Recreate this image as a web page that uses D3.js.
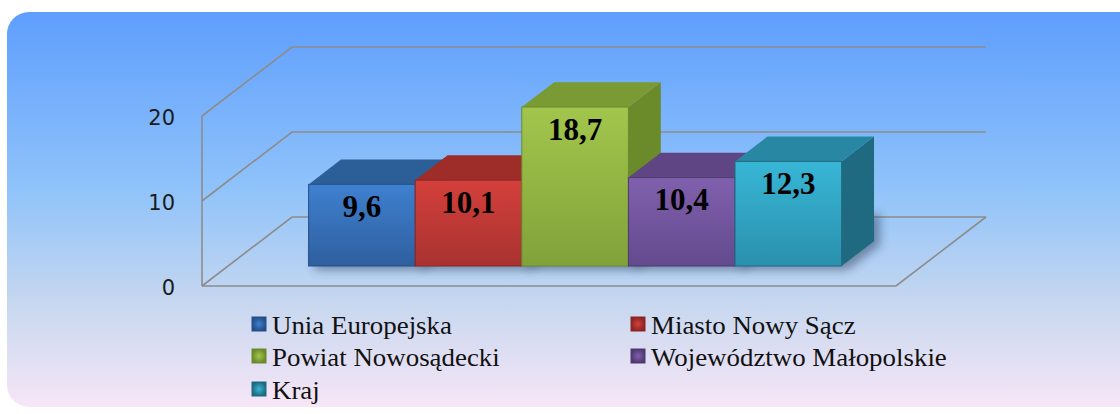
<!DOCTYPE html>
<html>
<head>
<meta charset="utf-8">
<script src="https://cdn.jsdelivr.net/npm/d3@7/dist/d3.min.js"></script>
<style>
  html, body { margin: 0; padding: 0; background: #fff; }
  svg { display: block; }
</style>
</head>
<body>
<div id="vis"></div>
<script>
const categories = ["Unia Europejska", "Miasto Nowy Sącz", "Powiat Nowosądecki", "Województwo Małopolskie", "Kraj"]
const values = [9.6, 10.1, 18.7, 10.4, 12.3]
const yTicks = [0, 10, 20]
// front / top / side colours per bar
const frontTop = ["#3f80cf", "#d4403b", "#a2c64c", "#8060ad", "#38b6d6"]
const frontBottom = ["#2e5f9f", "#a83230", "#80a23a", "#634a8d", "#2a90ad"]
const topColors = ["#2c5e98", "#9e2d2a", "#7a9b33", "#5f4584", "#2887a3"]
const sideColors = ["#24508a", "#8c2523", "#6b8a2a", "#4f3a70", "#1f6a80"]

const W = 1120, H = 414
const plot = {left: 202, right: 896, bottom: 286, top: 116}
const depth = {dx: 90, dy: -69}
const barDepth = [0.29, 0.65]

const svg = d3.select('#vis').append('svg')
    .attr('width', W)
    .attr('height', H)

const defs = svg.append('defs')

const bg = defs.append('linearGradient').attr('id', 'bg')
    .attr('x1', 0).attr('y1', 0).attr('x2', 0).attr('y2', 1)
bg.append('stop').attr('offset', '0%').attr('stop-color', '#5e9efd')
bg.append('stop').attr('offset', '45%').attr('stop-color', '#90c3fa')
bg.append('stop').attr('offset', '75%').attr('stop-color', '#c9d8ef')
bg.append('stop').attr('offset', '100%').attr('stop-color', '#f7e6f7')

categories.forEach((c, i) => {
    const g = defs.append('linearGradient').attr('id', 'front' + i)
        .attr('x1', 0).attr('y1', 0).attr('x2', 0).attr('y2', 1)
    g.append('stop').attr('offset', '0%').attr('stop-color', frontTop[i])
    g.append('stop').attr('offset', '100%').attr('stop-color', frontBottom[i])
    const m = defs.append('radialGradient').attr('id', 'mark' + i)
    m.append('stop').attr('offset', '0%').attr('stop-color', frontTop[i])
    m.append('stop').attr('offset', '100%').attr('stop-color', sideColors[i])
})

defs.append('filter').attr('id', 'blur')
    .attr('x', '-20%').attr('y', '-20%').attr('width', '140%').attr('height', '140%')
    .append('feGaussianBlur').attr('stdDeviation', 5)

// panel (runs off the right edge)
svg.append('rect')
    .attr('x', 7).attr('y', 12)
    .attr('width', 1140).attr('height', 395)
    .attr('rx', 22).attr('ry', 22)
    .attr('fill', 'url(#bg)')

const yScale = d3.scaleLinear().domain([0, 20]).range([plot.bottom, plot.top])
const xScale = d3.scaleBand()
    .domain(categories)
    .range([plot.left, plot.right])
    .paddingInner(0)
    .paddingOuter(0.755)

const proj = (x, v, d) => [x + d * depth.dx, yScale(v) + d * depth.dy]
const pts = arr => arr.map(p => p.join(',')).join(' ')

// gridlines: left diagonal + back line
const grid = svg.append('g')
    .attr('stroke', '#8c8c8c')
    .attr('stroke-width', 1.6)
    .attr('fill', 'none')

yTicks.forEach(t => {
    grid.append('polyline').attr('points', pts([proj(plot.left, t, 0), proj(plot.left, t, 1), proj(plot.right, t, 1)]))
})
// floor front edge + right diagonal, vertical axis
grid.append('polyline').attr('points', pts([proj(plot.left, 0, 0), proj(plot.right, 0, 0), proj(plot.right, 0, 1)]))
grid.append('line')
    .attr('x1', plot.left).attr('x2', plot.left)
    .attr('y1', yScale(0)).attr('y2', yScale(20))

// tick labels
svg.append('g').selectAll('text')
    .data(yTicks)
    .enter()
    .append('text')
    .attr('x', 175)
    .attr('y', d => yScale(d) + 2)
    .attr('text-anchor', 'end')
    .attr('dominant-baseline', 'central')
    .style('font-family', '"DejaVu Sans", Verdana, sans-serif')
    .style('font-size', '21px')
    .style('fill', '#1b1b1b')
    .text(d => d)

// bars
const bars = svg.append('g')
const barData = categories.map((c, i) => ({c, v: values[i], i}))

// soft shadow
bars.selectAll('.shadow')
    .data(barData)
    .enter()
    .append('polygon')
    .attr('class', 'shadow')
    .attr('points', d => {
        const x0 = xScale(d.c), x1 = x0 + xScale.bandwidth()
        return pts([proj(x0, 0, barDepth[0]), proj(x1, 0, barDepth[0]), proj(x1, 0, barDepth[1]),
            proj(x1, d.v * 0.3, barDepth[1]), proj(x0, d.v * 0.3, barDepth[0])])
    })
    .attr('transform', 'translate(6,4)')
    .attr('fill', '#1d2f4a')
    .attr('opacity', 0.45)
    .attr('filter', 'url(#blur)')

const bar = bars.selectAll('.bar')
    .data(barData)
    .enter()
    .append('g')
    .attr('class', 'bar')

// side
bar.append('polygon')
    .attr('points', d => {
        const x1 = xScale(d.c) + xScale.bandwidth()
        return pts([proj(x1, 0, barDepth[0]), proj(x1, 0, barDepth[1]), proj(x1, d.v, barDepth[1]), proj(x1, d.v, barDepth[0])])
    })
    .attr('fill', d => sideColors[d.i])

// top
bar.append('polygon')
    .attr('points', d => {
        const x0 = xScale(d.c), x1 = x0 + xScale.bandwidth()
        return pts([proj(x0, d.v, barDepth[0]), proj(x1, d.v, barDepth[0]), proj(x1, d.v, barDepth[1]), proj(x0, d.v, barDepth[1])])
    })
    .attr('fill', d => topColors[d.i])

// front
bar.append('rect')
    .attr('x', d => proj(xScale(d.c), d.v, barDepth[0])[0])
    .attr('y', d => proj(xScale(d.c), d.v, barDepth[0])[1])
    .attr('width', xScale.bandwidth())
    .attr('height', d => yScale(0) - yScale(d.v))
    .attr('fill', d => `url(#front${d.i})`)
    .attr('stroke', d => sideColors[d.i])
    .attr('stroke-width', 1)

const fmt = d3.formatLocale({decimal: ",", thousands: " ", grouping: [3], currency: ["", ""]}).format(".1f")

bar.append('text')
    .attr('x', d => proj(xScale(d.c) + xScale.bandwidth() / 2, d.v, barDepth[0])[0])
    .attr('y', d => proj(xScale(d.c), d.v, barDepth[0])[1] + 22)
    .attr('text-anchor', 'middle')
    .attr('dominant-baseline', 'central')
    .style('font-family', '"Liberation Serif", "Times New Roman", serif')
    .style('font-weight', 'bold')
    .style('font-size', '31px')
    .style('fill', '#000')
    .text(d => fmt(d.v))

// legend
const legendPos = [[252, 324], [631, 324], [252, 356], [631, 356], [252, 389]]
const legend = svg.append('g').selectAll('g')
    .data(barData)
    .enter()
    .append('g')
    .attr('transform', d => `translate(${legendPos[d.i][0]},${legendPos[d.i][1]})`)

legend.append('rect')
    .attr('x', 0).attr('y', -7)
    .attr('width', 14).attr('height', 14)
    .attr('fill', d => `url(#mark${d.i})`)
    .attr('stroke', d => sideColors[d.i])
    .attr('stroke-width', 1)

legend.append('text')
    .attr('transform', 'translate(20,1) scale(1.035,1)')
    .attr('dominant-baseline', 'central')
    .style('font-family', '"Liberation Serif", "Times New Roman", serif')
    .style('font-size', '26px')
    .style('fill', '#111')
    .text(d => d.c)
</script>
</body>
</html>
